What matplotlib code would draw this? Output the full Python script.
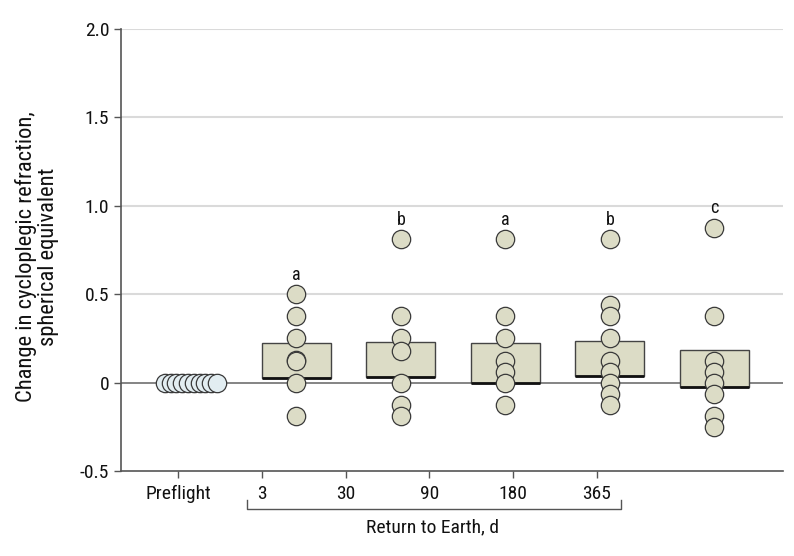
import matplotlib
matplotlib.use("Agg")
import matplotlib.pyplot as plt
import numpy as np

plt.rcParams['font.family'] = ['Roboto Condensed', 'Liberation Sans Narrow', 'Roboto', 'DejaVu Sans']

# data
groups = ['Preflight', '3', '30', '90', '180', '365']
preflight = [0, 0, 0, 0, 0, 0, 0, 0, 0, 0]
d3 = [0.5, 0.375, 0.25, 0.13, 0.12, 0.0, -0.1875]
d30 = [0.81, 0.375, 0.25, 0.18, 0.0, -0.125, -0.19]
d90 = [0.81, 0.375, 0.25, 0.125, 0.0625, 0.0, -0.125]
d180 = [0.81, 0.44, 0.375, 0.25, 0.125, 0.0625, 0.0, -0.0625, -0.125]
d365 = [0.875, 0.375, 0.125, 0.0625, 0.0, -0.0625, -0.1875, -0.25]
box_top = [0.226, 0.231, 0.226, 0.237, 0.184]
box_bottom = [0.028, 0.030, -0.003, 0.040, -0.023]
letters = ['a', 'b', 'a', 'b', 'c']

pt_color = '#dcdcc6'
edge = '#3a3a3a'
fs = 14

fig = plt.figure(figsize=(7.94, 5.56), dpi=100)
ax = fig.add_axes([121/794, (556-471)/556, (783-121)/794, (471-29)/556])

# gridlines
for g in [0.5, 1.0, 1.5, 2.0]:
    ax.axhline(g, color='#dadada', lw=1.5, zorder=0)
ax.axhline(0, color='#707070', lw=1.2, zorder=1)

# preflight circles, spread sideways
offs = np.linspace(-0.26, 0.24, len(preflight))
ax.scatter(0 + offs, preflight, s=175, facecolor='#e2edf1', edgecolor=edge, lw=0.9, zorder=4)

post = [d3, d30, d90, d180, d365]
for i, vals in enumerate(post):
    x = i + 1
    ax.bar(x, box_top[i] - box_bottom[i], bottom=box_bottom[i], width=0.66,
           color=pt_color, edgecolor='#444444', lw=1.0, zorder=2)
    ax.hlines(box_bottom[i], x - 0.33, x + 0.33, color='#111111', lw=2.0, zorder=3)
    ax.scatter([x] * len(vals), vals, s=175, facecolor=pt_color, edgecolor=edge, lw=0.9, zorder=4)
    ax.annotate(letters[i], (x, max(vals)), xytext=(0, 14), textcoords='offset points',
                ha='center', va='center', fontsize=13, color='#111111')

# ticks are offset from the data columns in the original
tick_pos = [-0.134, 0.670, 1.474, 2.273, 3.072, 3.876]
ax.set_xticks(tick_pos)
ax.set_xticklabels(groups, fontsize=fs)
ax.set_xlim(-0.679, 5.656)
ax.set_ylim(-0.5, 2.0)
ax.set_yticks([-0.5, 0, 0.5, 1.0, 1.5, 2.0])
ax.set_yticklabels(['-0.5', '0', '0.5', '1.0', '1.5', '2.0'], fontsize=fs)

for s in ['top', 'right']:
    ax.spines[s].set_visible(False)
for s in ['left', 'bottom']:
    ax.spines[s].set_color('#555555')
    ax.spines[s].set_linewidth(1.2)
ax.tick_params(axis='both', colors='#555555', labelcolor='#111111', length=5, width=1.0)
ax.tick_params(axis='x', pad=5)

# bracket under the return-to-earth groups
bx0, bx1 = 0.526, 4.105
by = -0.5 - 38 / 177.3
tk = 9 / 177.3
ax.plot([bx0, bx0, bx1, bx1], [by + tk, by, by, by + tk], color='#555555', lw=1.0, clip_on=False)
ax.text((bx0 + bx1) / 2 - 0.01, by - 19 / 177.3, 'Return to Earth, d', ha='center', va='center',
        fontsize=fs, color='#111111', clip_on=False)

fig.text(37/794, 1 - 257/556, 'Change in cycloplegic refraction,\nspherical equivalent',
         rotation=90, ha='center', va='center', fontsize=16.2, color='#111111', linespacing=1.1)

fig.savefig('out.png', dpi=100)
